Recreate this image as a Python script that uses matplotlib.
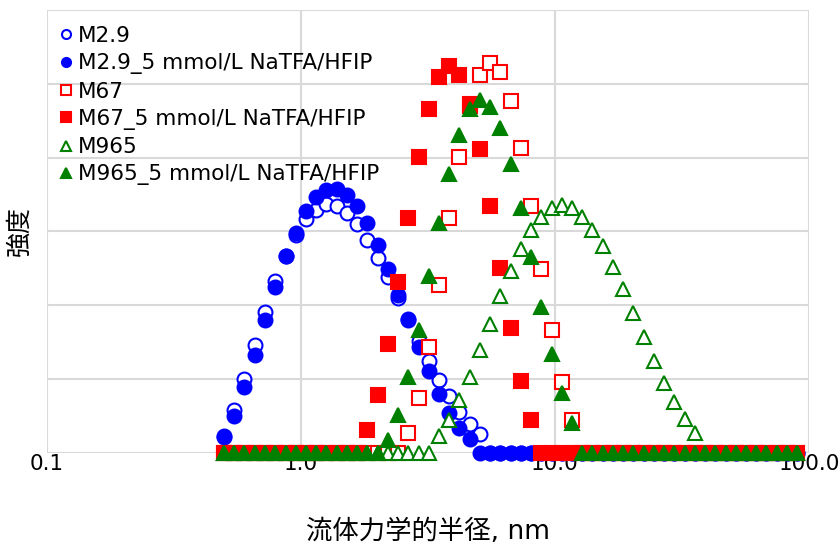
import matplotlib
matplotlib.use('Agg')
import matplotlib.pyplot as plt

plt.rcParams['font.family'] = ['DejaVu Sans', 'Noto Sans CJK JP']

# DLS size bins (nm)
radius = [0.498, 0.546, 0.599, 0.657, 0.721, 0.792, 0.869, 0.953, 1.046, 1.147,
          1.259, 1.381, 1.516, 1.663, 1.825, 2.002, 2.197, 2.411, 2.645, 2.902,
          3.184, 3.494, 3.834, 4.207, 4.616, 5.064, 5.557, 6.097, 6.690, 7.341,
          8.054, 8.838, 9.696, 10.64, 11.67, 12.81, 14.05, 15.42, 16.92, 18.57,
          20.37, 22.35, 24.53, 26.91, 29.53, 32.40, 35.55, 39.00, 42.80, 46.96,
          51.52, 56.53, 62.03, 68.06, 74.68, 81.94, 89.91]

m29 = [0.45, 1.17, 2.01, 2.91, 3.83, 4.65, 5.33, 5.90, 6.34, 6.59, 6.75, 6.70,
       6.50, 6.19, 5.78, 5.28, 4.76, 4.20, 3.62, 3.02, 2.50, 1.98, 1.53, 1.10,
       0.78, 0.51] + [0] * 31
m29_salt = [0.42, 0.99, 1.78, 2.66, 3.61, 4.49, 5.33, 5.96, 6.55, 6.94, 7.12, 7.14,
            6.98, 6.68, 6.23, 5.64, 4.99, 4.29, 3.59, 2.88, 2.21, 1.60, 1.09, 0.67,
            0.37] + [0] * 32
m67 = [0] * 18 + [0.53, 1.48, 2.87, 4.56, 6.35, 8.01, 9.40, 10.24, 10.57, 10.33,
                  9.52, 8.25, 6.68, 4.99, 3.34, 1.93, 0.88] + [0] * 22
m67_salt = [0] * 14 + [0.62, 1.57, 2.96, 4.62, 6.35, 8.01, 9.31, 10.18, 10.48, 10.24,
                       9.44, 8.22, 6.68, 5.01, 3.37, 1.96, 0.90] + [0] * 26
m965 = [0] * 21 + [0.46, 0.90, 1.42, 2.05, 2.78, 3.50, 4.24, 4.92, 5.53, 6.03, 6.40,
                   6.64, 6.71, 6.64, 6.40, 6.05, 5.60, 5.04, 4.44, 3.79, 3.14, 2.50,
                   1.89, 1.37, 0.91, 0.55] + [0] * 10
m965_salt = [0] * 16 + [0.35, 1.03, 2.05, 3.34, 4.80, 6.23, 7.56, 8.60, 9.31, 9.55,
                        9.38, 8.79, 7.83, 6.64, 5.31, 3.95, 2.69, 1.62, 0.81] + [0] * 22

series = [
    ('M2.9', m29, 'o', 'blue', False),
    ('M2.9_5 mmol/L NaTFA/HFIP', m29_salt, 'o', 'blue', True),
    ('M67', m67, 's', 'red', False),
    ('M67_5 mmol/L NaTFA/HFIP', m67_salt, 's', 'red', True),
    ('M965', m965, '^', 'green', False),
    ('M965_5 mmol/L NaTFA/HFIP', m965_salt, '^', 'green', True),
]

fig = plt.figure(figsize=(8.4, 5.47), dpi=100)
ax = fig.add_axes([0.056, 0.172, 0.907, 0.81])

for label, vals, mk, col, filled in series:
    ax.plot(radius, vals, linestyle='none', marker=mk, markersize=10,
            markerfacecolor=col if filled else 'white', markeredgecolor=col,
            markeredgewidth=1.5, label=label, clip_on=False)

ax.set_xscale('log')
ax.set_xlim(0.1, 100)
ax.set_ylim(0, 12)
ax.set_xticks([0.1, 1, 10, 100])
ax.set_xticklabels(['0.1', '1.0', '10.0', '100.0'])
ax.minorticks_off()
ax.set_yticks([0, 2, 4, 6, 8, 10, 12])
ax.set_yticklabels([])
ax.tick_params(length=0, labelsize=15.5, pad=1)
ax.grid(True, color='#d9d9d9', linewidth=1.5)
ax.set_axisbelow(True)
for sp in ax.spines.values():
    sp.set_visible(False)

ax.set_xlabel('流体力学的半径, nm', fontsize=19, labelpad=32)
ax.set_ylabel('強度', fontsize=18)
ax.yaxis.set_label_coords(-0.02, 0.5)

ax.legend(loc='upper left', bbox_to_anchor=(0.0, 0.993), frameon=False,
          fontsize=15.5, markerscale=0.65, handlelength=0.6, handletextpad=0.25,
          labelspacing=0.34, borderaxespad=0.2)

fig.savefig('out.png', dpi=100)
